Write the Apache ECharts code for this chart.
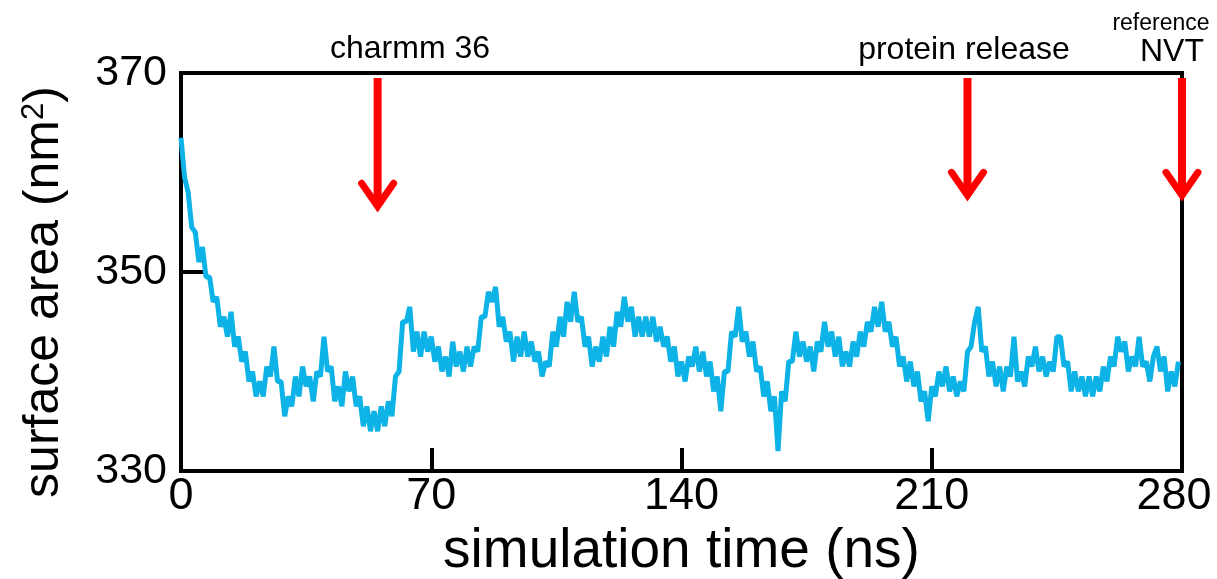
<!DOCTYPE html>
<html>
<head>
<meta charset="utf-8">
<script src="https://cdn.jsdelivr.net/npm/echarts@6/dist/echarts.min.js"></script>
<style>
html,body{margin:0;padding:0;background:#fff;}
#chart{width:1217px;height:579px;}
</style>
</head>
<body>
<div id="chart"></div>
<script>
// simulation time (ns), one sample per ns
const timeNs = Array.from({length: 280}, (_, i) => i);
// surface area (nm^2)
const surfaceArea = [
  363.5, 359.5, 358, 354.5, 354, 351, 352.5, 349.5, 349.5, 347,
  347.5, 344.5, 345.5, 343.5, 346, 342.5, 343.5, 341, 342, 339,
  340, 337.5, 339, 337.5, 340.5, 339.5, 342.5, 339, 339, 335.5,
  337.5, 336.5, 339.5, 337.5, 340.5, 338.5, 339.5, 337, 340, 339.5,
  343.5, 340, 340.5, 337, 338.5, 336.5, 340, 338, 339.5, 336.5,
  337.5, 334.5, 336.5, 334, 336, 334, 336.5, 334.5, 337, 335.5,
  339.5, 340, 345, 345, 346.5, 342, 344, 341.5, 344, 342,
  343.5, 341, 342.5, 340, 341.5, 339.5, 343, 340.5, 342, 340,
  342.5, 340.5, 342.5, 342, 345.5, 345.5, 348, 347, 348.5, 344.5,
  345.5, 343, 344, 341, 343.5, 341.5, 344, 341.5, 343, 341,
  342, 339.5, 341, 340.5, 344, 342.5, 345.5, 343.5, 347, 345,
  348, 345, 345.5, 342.5, 343.5, 340.5, 342.5, 341, 343.5, 341.5,
  344.5, 342.5, 346, 344.5, 347.5, 345, 346.5, 343.5, 345.5, 343.5,
  345.5, 343.5, 345.5, 343, 344.5, 342.5, 343.5, 341, 342.5, 339.5,
  341, 339, 341.5, 340.5, 342.5, 340, 342, 339.5, 341, 338,
  339.5, 336, 340, 340, 344, 343.5, 346.5, 343, 344, 341.5,
  343, 340, 340.5, 337.5, 339, 336, 337.5, 332, 338, 337,
  341, 341, 344, 341.5, 343, 341, 342.5, 340, 343, 342,
  345, 342.5, 344, 341.5, 343.5, 340.5, 342, 340.5, 343, 341.5,
  344, 342.5, 345, 344, 346.5, 344.5, 347, 344, 345, 342.5,
  343.5, 340.5, 341.5, 339, 341, 338.5, 340, 337, 338, 335,
  338.5, 337.5, 340, 338.5, 340.5, 338, 339.5, 337.5, 339, 338,
  342, 342.5, 345, 346.5, 342, 342.5, 339.5, 341, 338.5, 340.5,
  338, 340.5, 339.5, 343.5, 339, 340, 338.5, 341.5, 340.5, 342.5,
  340, 341.5, 339.5, 341, 340, 343.5, 343.5, 340.5, 341, 338,
  340, 338, 339.5, 337.5, 339.5, 337.5, 339.5, 338, 340.5, 339,
  341.5, 340.5, 343.5, 342, 343, 340, 341.5, 340.5, 343.5, 340.5,
  341, 339, 341.5, 342.5, 340, 341.5, 338, 340, 338.5, 341
];
// x / y tick values
const xTicks = [0, 70, 140, 210, 280];
const yTicks = [330, 350, 370];
// event arrows: time (ns), shaft top value, arrow tip value
const arrowTimes = [55, 220, 280];
const arrowTop = [369.5, 369.5, 369.5];
const arrowTip = [356.3, 357.4, 357.4];
const arrowLabels = ['charmm 36', 'protein release', 'NVT'];

const lineData = timeNs.map((t, i) => [t, surfaceArea[i]]);
const arrowData = arrowTimes.map((t, i) => [t, arrowTop[i], arrowTip[i]]);
const xMax = xTicks[xTicks.length - 1];

const FONT = '"Liberation Sans", Arial, Helvetica, sans-serif';
const chart = echarts.init(document.getElementById('chart'), null, {renderer: 'canvas'});
chart.setOption({
  animation: false,
  backgroundColor: '#ffffff',
  grid: {
    left: 181, right: 35, top: 73, bottom: 108,
    containLabel: false, outerBoundsMode: 'none',
    show: true, borderColor: '#000', borderWidth: 4, backgroundColor: 'transparent'
  },
  xAxis: {
    type: 'value', min: xTicks[0], max: xMax, interval: 70,
    name: 'simulation time (ns)', nameLocation: 'middle', nameGap: 50,
    nameTextStyle: {fontSize: 55, color: '#000', fontFamily: FONT},
    axisLine: {show: true, lineStyle: {color: '#000', width: 4}},
    axisTick: {show: true, inside: true, length: 23, lineStyle: {color: '#000', width: 4}},
    axisLabel: {
      fontSize: 45, color: '#000', fontFamily: FONT, margin: 3,
      formatter: function (v) { return v === xMax ? '{last|' + v + '}' : String(v); },
      rich: {last: {fontSize: 45, color: '#000', fontFamily: FONT, padding: [0, 16, 0, 0]}}
    },
    splitLine: {show: false}
  },
  yAxis: {
    type: 'value', min: yTicks[0], max: yTicks[yTicks.length - 1], interval: 20,
    name: 'surface area (nm{s|2})', nameLocation: 'middle', nameGap: 112,
    nameTextStyle: {fontSize: 50, color: '#000', fontFamily: FONT, padding: [0, 40, 0, 0],
      rich: {s: {fontSize: 31, color: '#000', fontFamily: FONT, verticalAlign: 'top', padding: [0, 0, 18, 0]}}},
    axisLine: {show: true, lineStyle: {color: '#000', width: 4}},
    axisTick: {show: true, inside: true, length: 26, lineStyle: {color: '#000', width: 4}},
    axisLabel: {fontSize: 43, color: '#000', fontFamily: FONT, margin: 14},
    splitLine: {show: false}
  },
  series: [
    {
      type: 'line', data: lineData, showSymbol: false, symbol: 'none',
      lineStyle: {color: '#0db2e6', width: 5}, z: 3
    },
    {
      type: 'custom', data: arrowData, clip: false, z: 5,
      renderItem: function (params, api) {
        const top = api.coord([api.value(0), api.value(1)]);
        const tip = api.coord([api.value(0), api.value(2)]);
        return {
          type: 'group',
          children: [
            {type: 'line', shape: {x1: top[0], y1: top[1], x2: tip[0], y2: tip[1] - 3},
             style: {stroke: '#ff0000', lineWidth: 8}},
            {type: 'polyline', shape: {points: [[tip[0] - 16, tip[1] - 26], [tip[0], tip[1] - 3], [tip[0] + 16, tip[1] - 26]]},
             style: {stroke: '#ff0000', lineWidth: 7, fill: null, lineJoin: 'miter', lineCap: 'round'}}
          ]
        };
      }
    }
  ],
  graphic: [
    {type: 'text', x: 410, y: 49, style: {text: arrowLabels[0], font: '32px ' + FONT, fill: '#000', textAlign: 'center', textVerticalAlign: 'middle'}},
    {type: 'text', x: 964, y: 50, style: {text: arrowLabels[1], font: '32px ' + FONT, fill: '#000', textAlign: 'center', textVerticalAlign: 'middle'}},
    {type: 'text', x: 1161, y: 24, style: {text: 'reference', font: '23px ' + FONT, fill: '#000', textAlign: 'center', textVerticalAlign: 'middle'}},
    {type: 'text', x: 1172, y: 52, style: {text: arrowLabels[2], font: '32px ' + FONT, fill: '#000', textAlign: 'center', textVerticalAlign: 'middle'}}
  ]
});
</script>
</body>
</html>
